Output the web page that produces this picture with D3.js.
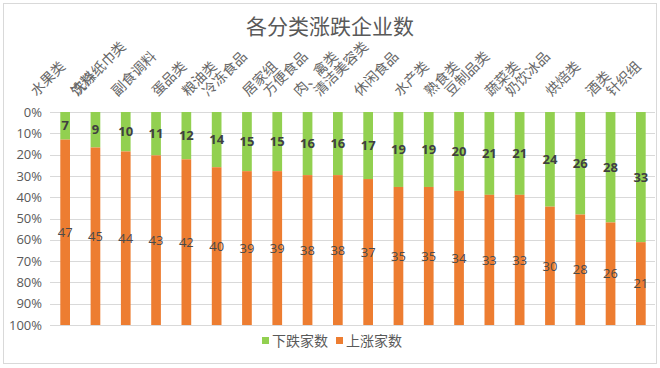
<!DOCTYPE html>
<html><head><meta charset="utf-8">
<script src="https://cdn.jsdelivr.net/npm/d3@7"></script>
<style>body{margin:0;background:#fff}svg{display:block}</style>
</head><body>
<svg id="c" width="660" height="368"></svg>
<script>
const categories = ["水果类","饮料","洗涤纸巾类","副食调料","蛋品类","粮油类","冷冻食品","居家组","方便食品","肉、禽类","清洁美容类","休闲食品","水产类","熟食类","豆制品类","蔬菜类","奶饮冰品","烘焙类","酒类","针织组"];
const downValues = [7,9,10,11,12,14,15,15,16,16,17,19,19,20,21,21,24,26,28,33];
const upValues = [47,45,44,43,42,40,39,39,38,38,37,35,35,34,33,33,30,28,26,21];
const yTicks = [0,0.1,0.2,0.3,0.4,0.5,0.6,0.7,0.8,0.9,1];
const seriesNames = ["下跌家数","上涨家数"];
const colors = ["#92D050","#ED7D31"];

const svg = d3.select("#c");
const fontCJK = "'Noto Sans CJK SC','Noto Sans',sans-serif";
const fontNum = "'Open Sans','Liberation Sans',sans-serif";

svg.append("rect").attr("x",3.5).attr("y",3.5).attr("width",653).attr("height",360)
  .attr("fill","#fff").attr("stroke","#d9d9d9").attr("stroke-width",1);

const x = d3.scaleBand().domain(categories).range([50,656]).paddingInner(0.68).paddingOuter(0.34);
const y = d3.scaleLinear().domain([0,1]).range([112,325]);

// grid
svg.append("g").selectAll("line").data(yTicks).join("line")
  .attr("x1",50).attr("x2",655)
  .attr("y1",d=>Math.round(y(d))+0.5).attr("y2",d=>Math.round(y(d))+0.5)
  .attr("stroke","#d9d9d9").attr("stroke-width",1);

// y axis
const yAxis = d3.axisLeft(y).tickValues(yTicks).tickFormat(d3.format(".0%")).tickSize(0).tickPadding(0);
const ga = svg.append("g").attr("transform","translate(42,0)").call(yAxis);
ga.select(".domain").remove();
ga.selectAll("text").attr("font-family",fontNum).attr("font-size",13).attr("fill","#595959");

// data
const rows = categories.map((c,i)=>({cat:c, down:downValues[i], up:upValues[i]}));
const stack = d3.stack().keys(["down","up"]).offset(d3.stackOffsetExpand);
const series = stack(rows);

const g = svg.append("g");
series.forEach((s,si)=>{
  g.selectAll(null).data(s).join("rect")
    .attr("x",d=>x(d.data.cat)).attr("width",x.bandwidth())
    .attr("y",d=>y(d[0])).attr("height",d=>y(d[1])-y(d[0]))
    .attr("fill",colors[si]);
  g.selectAll(null).data(s).join("text")
    .attr("x",d=>x(d.data.cat)+x.bandwidth()/2)
    .attr("y",d=>(y(d[0])+y(d[1]))/2)
    .attr("dy","0.36em").attr("text-anchor","middle")
    .attr("font-family",fontNum).attr("font-size",13)
    .attr("font-weight",si===0?"bold":"normal")
    .attr("fill",si===0?"#404040":"#4a4a4a")
    .text(d=>d.data[si===0?"down":"up"]);
});

// category labels (rotated)
const labels = svg.append("g").selectAll("text").data(categories).join("text")
  .attr("font-family",fontCJK).attr("font-size",14).attr("fill","#666666")
  .text(d=>d);
labels.each(function(d){
  const L = this.getComputedTextLength();
  const cx = x(d)+x.bandwidth()/2;
  const sx = cx - L*Math.SQRT1_2 + 1;
  const sy = 97;
  d3.select(this).attr("transform",`translate(${sx},${sy}) rotate(-45)`);
});

// title
svg.append("text").attr("x",330).attr("y",34).attr("text-anchor","middle")
  .attr("font-family",fontCJK).attr("font-size",21).attr("fill","#595959")
  .text("各分类涨跌企业数");

// legend
const leg = svg.append("g");
const legX = [262,336];
seriesNames.forEach((n,i)=>{
  leg.append("rect").attr("x",legX[i]).attr("y",337).attr("width",7).attr("height",7).attr("fill",colors[i]);
  leg.append("text").attr("x",legX[i]+10).attr("y",346).attr("font-family",fontCJK).attr("font-size",14)
    .attr("fill","#595959").text(n);
});
</script>
</body></html>
